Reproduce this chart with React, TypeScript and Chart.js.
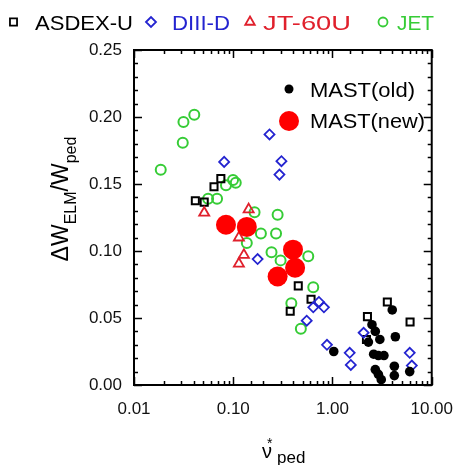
import React, { useEffect, useRef } from 'react';
import { Chart, registerables } from 'chart.js';

Chart.register(...registerables);

const WIDTH = 459;
const HEIGHT = 465;
const FONT = '"Liberation Sans", Arial, Helvetica, sans-serif';

// Pedestal collisionality (x) and ELM energy loss fraction (y) per device
const asdexNu = [0.0415, 0.051, 0.064, 0.075, 0.452, 0.608, 0.375, 3.57, 2.25, 6.05, 2.2];
const asdexW = [0.1375, 0.1365, 0.148, 0.154, 0.074, 0.064, 0.055, 0.062, 0.051, 0.047, 0.034];

const diiidNu = [0.232, 0.081, 0.306, 0.292, 0.176, 0.64, 0.73, 0.82, 0.55, 0.88, 1.49, 1.53, 2.06, 6.0, 6.3];
const diiidW = [0.187, 0.1665, 0.167, 0.157, 0.094, 0.058, 0.062, 0.058, 0.048, 0.03, 0.024, 0.015, 0.039, 0.024, 0.0145];

const jt60uNu = [0.051, 0.143, 0.114, 0.128, 0.114];
const jt60uW = [0.1285, 0.131, 0.11, 0.097, 0.0905];

const jetNu = [0.0186, 0.031, 0.0315, 0.0405, 0.0558, 0.0687, 0.0845, 0.0995, 0.106, 0.164, 0.28, 0.19, 0.27, 0.137, 0.243, 0.3, 0.57, 0.64, 0.385, 0.48];
const jetW = [0.1606, 0.1807, 0.1963, 0.2016, 0.139, 0.139, 0.149, 0.153, 0.151, 0.129, 0.127, 0.113, 0.113, 0.106, 0.099, 0.093, 0.096, 0.073, 0.061, 0.042];

const mastOldNu = [1.03, 4.0, 2.5, 2.7, 3.0, 4.3, 2.3, 2.6, 2.9, 3.3, 4.2, 4.2, 2.7, 2.9, 3.1, 6.0];
const mastOldW = [0.025, 0.056, 0.045, 0.04, 0.034, 0.036, 0.032, 0.023, 0.022, 0.022, 0.014, 0.007, 0.0115, 0.008, 0.004, 0.01];

const mastNewNu = [0.0845, 0.137, 0.4, 0.42, 0.28];
const mastNewW = [0.1196, 0.118, 0.101, 0.0875, 0.081];

// Axis ranges and labelled ticks
const xRange = [0.01, 10];
const yRange = [0, 0.25];
const yMajorStep = 0.05;
const yMinorStep = 0.01;

const COLORS = {
  asdex: '#000000',
  diiid: '#2424d0',
  jt60u: '#e0202c',
  jet: '#36cc36',
  mastOld: '#000000',
  mastNew: '#ff0000',
};

const toPoints = (xs: number[], ys: number[]) => xs.map((x, i) => ({ x, y: ys[i] }));

const isDecade = (v: number) => {
  const l = Math.log10(v);
  return Math.abs(l - Math.round(l)) < 1e-9;
};
const isYMajor = (v: number) => Math.abs(v / yMajorStep - Math.round(v / yMajorStep)) < 1e-6;

type Marker = 'rect' | 'rectRot' | 'triangle' | 'circle';

function drawMarker(
  ctx: CanvasRenderingContext2D,
  style: Marker,
  x: number,
  y: number,
  r: number,
  stroke: string,
  fill: string | null,
  lw: number
) {
  ctx.save();
  ctx.beginPath();
  if (style === 'rect') {
    const s = r * Math.SQRT1_2;
    ctx.rect(x - s, y - s, 2 * s, 2 * s);
  } else if (style === 'rectRot') {
    ctx.moveTo(x - r, y);
    ctx.lineTo(x, y - r);
    ctx.lineTo(x + r, y);
    ctx.lineTo(x, y + r);
    ctx.closePath();
  } else if (style === 'triangle') {
    ctx.moveTo(x, y - r);
    ctx.lineTo(x + r * Math.sin((2 * Math.PI) / 3), y - r * Math.cos((2 * Math.PI) / 3));
    ctx.lineTo(x + r * Math.sin((4 * Math.PI) / 3), y - r * Math.cos((4 * Math.PI) / 3));
    ctx.closePath();
  } else {
    ctx.arc(x, y, r, 0, Math.PI * 2);
  }
  if (fill) {
    ctx.fillStyle = fill;
    ctx.fill();
  }
  if (lw > 0) {
    ctx.strokeStyle = stroke;
    ctx.lineWidth = lw;
    ctx.stroke();
  }
  ctx.restore();
}

// Draws text squeezed or stretched horizontally to a given width
function fitText(ctx: CanvasRenderingContext2D, text: string, x: number, baseline: number, width: number) {
  const natural = ctx.measureText(text).width;
  ctx.save();
  ctx.translate(x, baseline);
  ctx.scale(width / natural, 1);
  ctx.fillText(text, 0, 0);
  ctx.restore();
}

// Closed frame with inward major/minor ticks on all four sides
const framePlugin = {
  id: 'frameTicks',
  afterDraw(chart: any) {
    const { ctx, chartArea: a, scales } = chart;
    ctx.save();
    ctx.strokeStyle = '#000';
    ctx.lineWidth = 1.5;
    ctx.beginPath();
    for (const t of scales.y.ticks) {
      const py = Math.round(scales.y.getPixelForValue(t.value)) + 0.5;
      const len = isYMajor(t.value) ? 8 : 4;
      ctx.moveTo(a.left, py);
      ctx.lineTo(a.left + len, py);
      ctx.moveTo(a.right, py);
      ctx.lineTo(a.right - len, py);
    }
    for (const t of scales.x.ticks) {
      const px = Math.round(scales.x.getPixelForValue(t.value)) + 0.5;
      const len = isDecade(t.value) ? 8 : 4;
      ctx.moveTo(px, a.bottom);
      ctx.lineTo(px, a.bottom - len);
      ctx.moveTo(px, a.top);
      ctx.lineTo(px, a.top + len);
    }
    ctx.stroke();
    ctx.lineWidth = 2;
    ctx.strokeRect(a.left, a.top, a.right - a.left, a.bottom - a.top);
    ctx.restore();
  },
};

// Device key along the top, MAST key inside the plot, and axis titles
const annotationPlugin = {
  id: 'keysAndTitles',
  afterDraw(chart: any) {
    const { ctx } = chart;
    ctx.save();
    ctx.textAlign = 'left';
    ctx.textBaseline = 'alphabetic';

    ctx.font = `21px ${FONT}`;
    const top = [
      { m: 'rect' as Marker, mx: 13.5, r: 5, c: COLORS.asdex, label: 'ASDEX-U', tx: 35, tw: 98 },
      { m: 'rectRot' as Marker, mx: 151, r: 5, c: COLORS.diiid, label: 'DIII-D', tx: 172, tw: 58 },
      { m: 'triangle' as Marker, mx: 250, r: 5.5, c: COLORS.jt60u, label: 'JT-60U', tx: 263, tw: 88 },
      { m: 'circle' as Marker, mx: 383, r: 4.5, c: COLORS.jet, label: 'JET', tx: 397, tw: 37 },
    ];
    for (const k of top) {
      drawMarker(ctx, k.m, k.mx, 22, k.r, k.c, null, 1.8);
      ctx.fillStyle = k.c;
      fitText(ctx, k.label, k.tx, 30, k.tw);
    }

    drawMarker(ctx, 'circle', 289, 89, 4.5, COLORS.mastOld, COLORS.mastOld, 0);
    drawMarker(ctx, 'circle', 289, 121, 10, COLORS.mastNew, COLORS.mastNew, 0);
    ctx.fillStyle = '#000';
    fitText(ctx, 'MAST(old)', 310, 97, 105);
    fitText(ctx, 'MAST(new)', 310, 128, 115);

    // y title: ΔW_ELM / W_ped, reading upward
    const segs = [
      { t: '\u0394W', size: 23, dy: 0 },
      { t: 'ELM', size: 16, dy: 8 },
      { t: '/W', size: 23, dy: 0 },
      { t: 'ped', size: 16, dy: 8 },
    ];
    let total = 0;
    for (const s of segs) {
      ctx.font = `${s.size}px ${FONT}`;
      total += ctx.measureText(s.t).width;
    }
    ctx.save();
    ctx.translate(68, 199);
    ctx.rotate(-Math.PI / 2);
    let cx = -total / 2;
    for (const s of segs) {
      ctx.font = `${s.size}px ${FONT}`;
      ctx.fillText(s.t, cx, s.dy);
      cx += ctx.measureText(s.t).width;
    }
    ctx.restore();

    // x title: ν*_ped
    ctx.font = `20px ${FONT}`;
    ctx.fillText('\u03BD', 262, 458);
    ctx.font = `14px ${FONT}`;
    ctx.fillText('*', 267, 448);
    ctx.font = `17px ${FONT}`;
    ctx.fillText('ped', 277, 463);

    ctx.restore();
  },
};

export default function App() {
  const canvasRef = useRef<HTMLCanvasElement | null>(null);

  useEffect(() => {
    if (!canvasRef.current) return;
    const hollow = 'rgba(0,0,0,0)';
    const chart = new Chart(canvasRef.current, {
      type: 'scatter',
      data: {
        datasets: [
          {
            label: 'MAST(new)',
            data: toPoints(mastNewNu, mastNewW),
            pointStyle: 'circle',
            pointRadius: 10,
            pointBorderWidth: 0,
            backgroundColor: COLORS.mastNew,
            borderColor: COLORS.mastNew,
          },
          {
            label: 'MAST(old)',
            data: toPoints(mastOldNu, mastOldW),
            pointStyle: 'circle',
            pointRadius: 4.8,
            pointBorderWidth: 0,
            backgroundColor: COLORS.mastOld,
            borderColor: COLORS.mastOld,
          },
          {
            label: 'JT-60U',
            data: toPoints(jt60uNu, jt60uW),
            pointStyle: 'triangle',
            pointRadius: 5.8,
            pointBorderWidth: 1.8,
            backgroundColor: hollow,
            borderColor: COLORS.jt60u,
          },
          {
            label: 'DIII-D',
            data: toPoints(diiidNu, diiidW),
            pointStyle: 'rectRot',
            pointRadius: 5,
            pointBorderWidth: 1.8,
            backgroundColor: hollow,
            borderColor: COLORS.diiid,
          },
          {
            label: 'ASDEX-U',
            data: toPoints(asdexNu, asdexW),
            pointStyle: 'rect',
            pointRadius: 5,
            pointBorderWidth: 2,
            backgroundColor: hollow,
            borderColor: COLORS.asdex,
          },
          {
            label: 'JET',
            data: toPoints(jetNu, jetW),
            pointStyle: 'circle',
            pointRadius: 5,
            pointBorderWidth: 2,
            backgroundColor: hollow,
            borderColor: COLORS.jet,
          },
        ].map((d) => ({ ...d, clip: false as any })),
      },
      options: {
        responsive: false,
        animation: false,
        devicePixelRatio: 1,
        events: [],
        layout: { padding: { top: 50, right: 24, left: 0, bottom: 0 } },
        plugins: { legend: { display: false }, tooltip: { enabled: false } },
        scales: {
          x: {
            type: 'logarithmic',
            min: xRange[0],
            max: xRange[1],
            grid: { display: false },
            border: { display: false },
            ticks: {
              autoSkip: false,
              maxRotation: 0,
              padding: 6,
              color: '#111',
              font: { family: FONT, size: 17 },
              callback: (v: any) => (isDecade(Number(v)) ? Number(v).toFixed(2) : ''),
            },
            afterFit: (s: any) => {
              s.height = 80;
            },
          },
          y: {
            type: 'linear',
            min: yRange[0],
            max: yRange[1],
            grid: { display: false },
            border: { display: false },
            ticks: {
              stepSize: yMinorStep,
              autoSkip: false,
              padding: 4,
              color: '#111',
              font: { family: FONT, size: 17 },
              callback: (v: any) => (isYMajor(Number(v)) ? Number(v).toFixed(2) : ''),
            },
            afterFit: (s: any) => {
              s.width = 134;
            },
          },
        },
      },
      plugins: [framePlugin, annotationPlugin],
    });
    return () => chart.destroy();
  }, []);

  return (
    <div style={{ position: 'absolute', left: 0, top: 0, width: WIDTH, height: HEIGHT, background: '#fff' }}>
      <canvas ref={canvasRef} width={WIDTH} height={HEIGHT} style={{ display: 'block' }} />
    </div>
  );
}
